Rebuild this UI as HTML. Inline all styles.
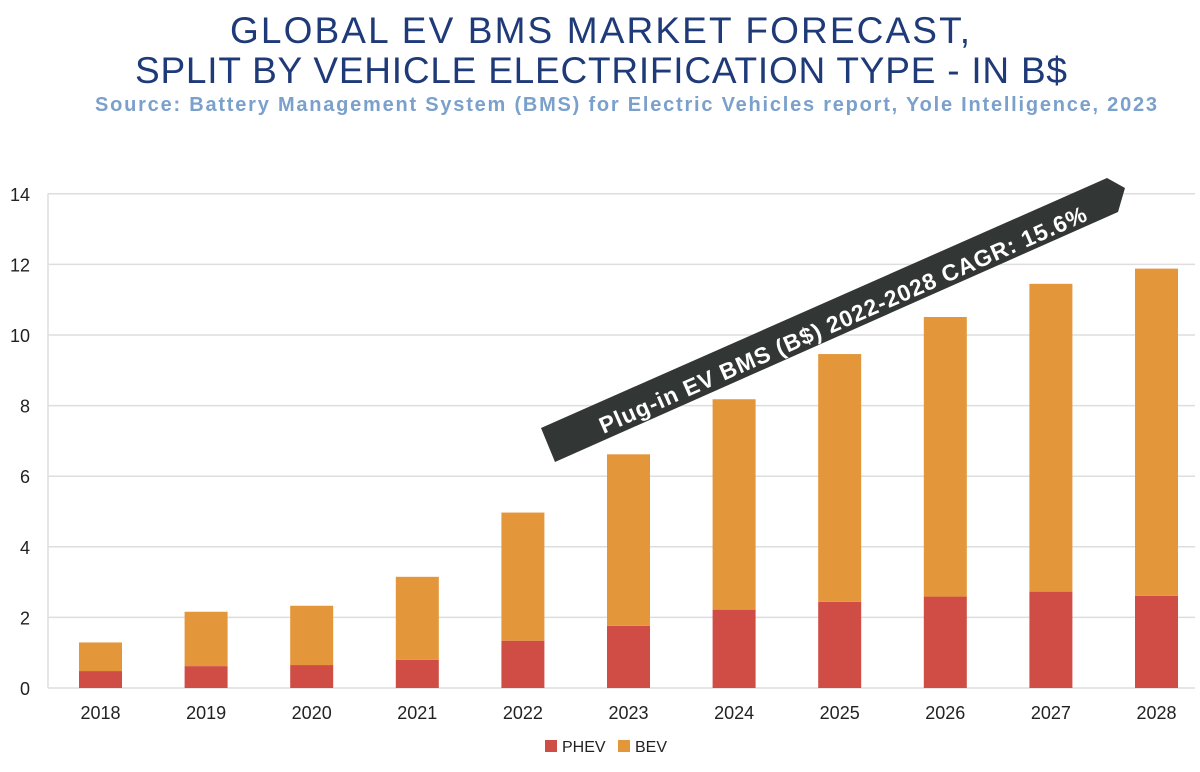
<!DOCTYPE html>
<html><head><meta charset="utf-8"><style>
body{margin:0;background:#fff;width:1200px;height:767px;overflow:hidden;font-family:"Liberation Sans",sans-serif}
</style></head><body>
<svg width="1200" height="767" xmlns="http://www.w3.org/2000/svg">
<text x="600" y="43" text-anchor="middle" font-size="37" textLength="740" fill="#1f3a78">GLOBAL EV BMS MARKET FORECAST,</text>
<text x="601" y="83" text-anchor="middle" font-size="37" textLength="932" fill="#1f3a78">SPLIT BY VEHICLE ELECTRIFICATION TYPE - IN B$</text>
<text x="626" y="111" text-anchor="middle" font-size="20" textLength="1062" font-weight="bold" fill="#7aa0cb">Source: Battery Management System (BMS) for Electric Vehicles report, Yole Intelligence, 2023</text>
<g id="grid"></g><g id="bars"></g><g id="xl"></g>
<g>
<polygon points="541,428 1107,178 1125,188 1118,212 555,462" fill="#323635"/>
<text x="0" y="0" transform="translate(846,327) rotate(-23.8)" text-anchor="middle" font-size="23" textLength="530" font-weight="bold" fill="#fff">Plug-in EV BMS (B$) 2022-2028 CAGR: 15.6%</text>
</g>
<g>
<rect x="545" y="740" width="12" height="12" fill="#cf4d45"/>
<text x="562" y="752" font-size="16" fill="#222">PHEV</text>
<rect x="618" y="740" width="12" height="12" fill="#e4963a"/>
<text x="635" y="752" font-size="16" fill="#222">BEV</text>
</g>
</svg>
<script>
const years=["2018","2019","2020","2021","2022","2023","2024","2025","2026","2027","2028"];
const phev=[0.48,0.62,0.65,0.8,1.34,1.76,2.22,2.44,2.59,2.73,2.61];
const total=[1.29,2.16,2.33,3.15,4.97,6.62,8.18,9.46,10.51,11.45,11.88];
const yTicks=[0,2,4,6,8,10,12,14];
const NS="http://www.w3.org/2000/svg";
const X0=48,X1=1195,Y0=688,PPU=35.3,STEP=105.6,BW=43;
const y=v=>Y0-v*PPU, xc=i=>100.5+i*STEP;
function mk(t,a,p){const e=document.createElementNS(NS,t);for(const k in a)e.setAttribute(k,a[k]);p.appendChild(e);return e;}
const g=document.getElementById('grid');
yTicks.forEach(t=>{
 const l=mk('line',{x1:X0,x2:X1,y1:y(t),y2:y(t),stroke:'#dedede','stroke-width':1.5},g);
 
 
 const tx=mk('text',{x:30,y:y(t)+7,'text-anchor':'end','font-size':18,fill:'#222'},g);tx.textContent=t;
 
 
});
const ax=mk('line',{x1:X0,x2:X0,y1:y(14),y2:Y0,stroke:'#dedede','stroke-width':1.5},g);


const b=document.getElementById('bars'),xl=document.getElementById('xl');
years.forEach((yr,i)=>{
 const r1=mk('rect',{x:xc(i)-BW/2,y:y(phev[i]),width:BW,height:phev[i]*PPU,fill:'#cf4d45'},b);
 
 
 const r2=mk('rect',{x:xc(i)-BW/2,y:y(total[i]),width:BW,height:(total[i]-phev[i])*PPU,fill:'#e4963a'},b);
 
 
 const t=mk('text',{x:xc(i),y:719,'text-anchor':'middle','font-size':18,fill:'#222'},xl);t.textContent=yr;
 
 
});
</script>
</body></html>
